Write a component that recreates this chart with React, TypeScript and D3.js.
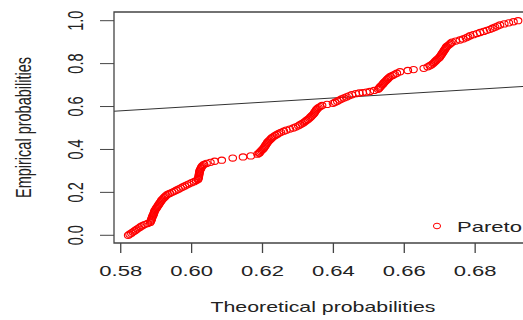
import { useEffect, useRef } from "react"
import * as d3 from "d3"

// theoretical (x) and empirical (y) probabilities
const theoretical = [
  0.5821, 0.5825, 0.583, 0.5834, 0.5839, 0.5843, 0.5847, 0.5852, 0.5856, 0.5861,
  0.5867, 0.5876, 0.5883, 0.5885, 0.5886, 0.5887, 0.5888, 0.5889, 0.589, 0.5892,
  0.5893, 0.5894, 0.5895, 0.5896, 0.5898, 0.59, 0.5902, 0.5904, 0.5906, 0.5908,
  0.591, 0.5912, 0.5914, 0.5916, 0.5919, 0.5922, 0.5925, 0.5928, 0.5932, 0.5938,
  0.5945, 0.5951, 0.5957, 0.5963, 0.5969, 0.5975, 0.5981, 0.5987, 0.5993, 0.6,
  0.6007, 0.6013, 0.6018, 0.6019, 0.602, 0.602, 0.6021, 0.6021, 0.6022, 0.6022,
  0.6023, 0.6024, 0.6026, 0.6027, 0.6029, 0.6031, 0.6035, 0.6042, 0.6053, 0.6065,
  0.6085, 0.6116, 0.6145, 0.6167, 0.6186, 0.619, 0.6192, 0.6194, 0.6197, 0.62,
  0.6203, 0.6205, 0.6207, 0.6209, 0.6211, 0.6213, 0.6215, 0.6218, 0.6221, 0.6224,
  0.6227, 0.6231, 0.6236, 0.6241, 0.6246, 0.6252, 0.626, 0.6267, 0.6277, 0.6287,
  0.6294, 0.6301, 0.6306, 0.6311, 0.6316, 0.632, 0.6324, 0.6328, 0.6332, 0.6335,
  0.6338, 0.6341, 0.6344, 0.6346, 0.6348, 0.635, 0.6352, 0.6355, 0.6358, 0.6363,
  0.6368, 0.6382, 0.6399, 0.6405, 0.6411, 0.6417, 0.6423, 0.643, 0.6437, 0.6444,
  0.6452, 0.6463, 0.6473, 0.6483, 0.6493, 0.6503, 0.6515, 0.6526, 0.6529, 0.6531,
  0.6534, 0.6537, 0.654, 0.6542, 0.6545, 0.6548, 0.6551, 0.6554, 0.6557, 0.6561,
  0.6567, 0.6573, 0.6579, 0.6588, 0.661, 0.6626, 0.6655, 0.6666, 0.6672, 0.6677,
  0.6681, 0.6684, 0.6687, 0.669, 0.6693, 0.6697, 0.67, 0.6702, 0.6704, 0.6706,
  0.6708, 0.671, 0.6712, 0.6714, 0.6716, 0.6718, 0.672, 0.6724, 0.6728, 0.6731,
  0.6735, 0.6745, 0.6757, 0.6766, 0.6774, 0.678, 0.6786, 0.6795, 0.6805, 0.6814,
  0.6824, 0.6833, 0.6842, 0.6849, 0.6856, 0.6863, 0.687, 0.6882, 0.6895, 0.6908,
  0.6921,
]
const empirical = [
  0.0, 0.005, 0.01, 0.015, 0.02, 0.025, 0.03, 0.035, 0.04, 0.045,
  0.05, 0.055, 0.06, 0.065, 0.07, 0.075, 0.08, 0.085, 0.09, 0.095,
  0.1, 0.105, 0.11, 0.115, 0.12, 0.125, 0.13, 0.135, 0.14, 0.145,
  0.15, 0.155, 0.16, 0.165, 0.17, 0.175, 0.18, 0.185, 0.19, 0.195,
  0.2, 0.205, 0.21, 0.215, 0.22, 0.225, 0.23, 0.235, 0.24, 0.245,
  0.25, 0.255, 0.26, 0.265, 0.27, 0.275, 0.28, 0.285, 0.29, 0.295,
  0.3, 0.305, 0.31, 0.315, 0.32, 0.325, 0.33, 0.335, 0.34, 0.345,
  0.35, 0.36, 0.365, 0.37, 0.378, 0.382, 0.385, 0.39, 0.395, 0.4,
  0.405, 0.41, 0.415, 0.42, 0.425, 0.43, 0.435, 0.44, 0.445, 0.45,
  0.455, 0.46, 0.465, 0.47, 0.475, 0.48, 0.485, 0.49, 0.495, 0.5,
  0.505, 0.51, 0.515, 0.52, 0.525, 0.53, 0.535, 0.54, 0.545, 0.55,
  0.555, 0.56, 0.565, 0.57, 0.575, 0.58, 0.585, 0.59, 0.595, 0.6,
  0.605, 0.61, 0.615, 0.62, 0.625, 0.63, 0.635, 0.64, 0.645, 0.65,
  0.655, 0.66, 0.663, 0.665, 0.667, 0.67, 0.675, 0.68, 0.685, 0.69,
  0.695, 0.7, 0.705, 0.71, 0.715, 0.72, 0.725, 0.73, 0.735, 0.74,
  0.745, 0.75, 0.755, 0.762, 0.768, 0.772, 0.778, 0.785, 0.79, 0.795,
  0.8, 0.805, 0.81, 0.815, 0.82, 0.825, 0.83, 0.835, 0.84, 0.845,
  0.85, 0.855, 0.86, 0.865, 0.87, 0.875, 0.88, 0.885, 0.89, 0.895,
  0.9, 0.905, 0.91, 0.915, 0.92, 0.925, 0.93, 0.935, 0.94, 0.945,
  0.95, 0.955, 0.96, 0.965, 0.97, 0.975, 0.98, 0.985, 0.99, 0.995,
  1.0,
]
const xTicks = [0.58, 0.6, 0.62, 0.64, 0.66, 0.68]
const yTicks = [0, 0.2, 0.4, 0.6, 0.8, 1.0]
const seriesName = "Pareto"

export default function App() {
  const svgRef = useRef<SVGSVGElement>(null)

  useEffect(() => {
    if (!svgRef.current) return
    const svg = d3.select(svgRef.current)
    svg.selectAll("*").remove()

    const font = "'Liberation Sans', Arial, sans-serif"
    const sx = 1.47 // the picture is stretched horizontally
    const ink = "#222"
    const left = 114, top = 12, bottom = 243, right = 534

    const x = d3.scaleLinear().domain([0.5781, 0.6966]).range([left, right])
    const y = d3.scaleLinear().domain([-0.0359, 1.0405]).range([bottom, top])

    // reference line y = x
    svg.append("line")
      .attr("x1", x(0.5781)).attr("y1", y(0.5781))
      .attr("x2", x(0.6966)).attr("y2", y(0.6966))
      .attr("stroke", "#333").attr("stroke-width", 1)

    // points
    const pts = theoretical.map((t, i) => ({ t, e: empirical[i] }))
    svg.append("g")
      .selectAll("ellipse")
      .data(pts)
      .join("ellipse")
      .attr("cx", (d) => x(d.t))
      .attr("cy", (d) => y(d.e))
      .attr("rx", 3.8)
      .attr("ry", 3.1)
      .attr("fill", "none")
      .attr("stroke", "#ff0000")
      .attr("stroke-width", 1.1)

    // box (right side falls outside the picture)
    svg.append("path")
      .attr("d", `M${right},${top}H${left}V${bottom}H${right}`)
      .attr("fill", "none")
      .attr("stroke", "#444")
      .attr("stroke-width", 1.3)

    // x axis
    const gx = svg.append("g")
    gx.selectAll("line")
      .data(xTicks)
      .join("line")
      .attr("x1", (d) => x(d)).attr("x2", (d) => x(d))
      .attr("y1", bottom).attr("y2", bottom + 10)
      .attr("stroke", "#444").attr("stroke-width", 1.3)
    gx.selectAll("text")
      .data(xTicks)
      .join("text")
      .attr("transform", (d) => `translate(${x(d)},276) scale(${sx},1)`)
      .attr("text-anchor", "middle")
      .attr("font-family", font)
      .attr("font-size", 15)
      .attr("fill", ink)
      .text((d) => d3.format(".2f")(d))

    // y axis
    const gy = svg.append("g")
    gy.selectAll("line")
      .data(yTicks)
      .join("line")
      .attr("x1", left - 14).attr("x2", left)
      .attr("y1", (d) => y(d)).attr("y2", (d) => y(d))
      .attr("stroke", "#444").attr("stroke-width", 1)
    gy.selectAll("text")
      .data(yTicks)
      .join("text")
      .attr("transform", (d) => `translate(83,${y(d)}) scale(${sx},1) rotate(-90)`)
      .attr("text-anchor", "middle")
      .attr("font-family", font)
      .attr("font-size", 14.5)
      .attr("fill", ink)
      .text((d) => d3.format(".1f")(d))

    // axis titles
    svg.append("text")
      .attr("transform", `translate(323,311.5) scale(${sx},1)`)
      .attr("text-anchor", "middle")
      .attr("font-family", font)
      .attr("font-size", 14.5)
      .attr("fill", ink)
      .text("Theoretical probabilities")

    svg.append("text")
      .attr("transform", `translate(30.5,127.5) scale(${sx},1) rotate(-90)`)
      .attr("text-anchor", "middle")
      .attr("font-family", font)
      .attr("font-size", 14.5)
      .attr("fill", ink)
      .text("Empirical probabilities")

    // legend
    svg.append("ellipse")
      .attr("cx", 437).attr("cy", 226)
      .attr("rx", 3.6).attr("ry", 2.8)
      .attr("fill", "none")
      .attr("stroke", "#ff0000")
      .attr("stroke-width", 1)
    svg.append("text")
      .attr("transform", `translate(457,232) scale(${sx},1)`)
      .attr("font-family", font)
      .attr("font-size", 15)
      .attr("fill", ink)
      .text(seriesName)
  }, [])

  return (
    <svg
      ref={svgRef}
      width={523}
      height={320}
      style={{ position: "fixed", left: 0, top: 0, background: "white" }}
    />
  )
}
